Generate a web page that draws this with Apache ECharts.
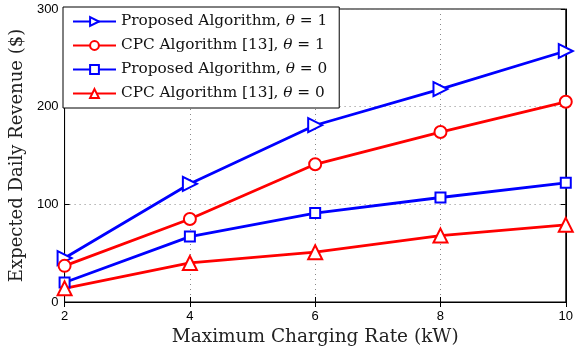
<!DOCTYPE html>
<html><head><meta charset="utf-8">
<script src="https://cdn.jsdelivr.net/npm/echarts@6/dist/echarts.min.js"></script>
<style>html,body{margin:0;padding:0;background:#fff}#c{width:576px;height:352px}</style>
</head><body><div id="c"></div>
<script>
const categories = [2, 4, 6, 8, 10];
const proposed1 = [45, 121, 181, 218, 257];
const cpc1 = [37, 85, 141, 174, 205];
const proposed0 = [20, 67, 91, 107, 122];
const cpc0 = [14, 40, 51, 68, 79];
const xTicks = [2, 4, 6, 8, 10];
const yTicks = [0, 100, 200, 300];

const names = ['Proposed Algorithm, θ = 1', 'CPC Algorithm [13], θ = 1', 'Proposed Algorithm, θ = 0', 'CPC Algorithm [13], θ = 0'];
const serif = 'DejaVu Serif';
function pts(arr){ return categories.map((x,i)=>[x,arr[i]]); }
function mk(name, data, color, symbol, rot, size){
  return {name, type:'line', data:pts(data), xAxisIndex:0, yAxisIndex:0,
    symbol, symbolRotate:rot, symbolSize:size, showSymbol:true,
    lineStyle:{color, width:2.8}, itemStyle:{color, borderColor:color, borderWidth:2},
    emphasis:{disabled:true}, z:3};
}
const chart = echarts.init(document.getElementById('c'), null, {renderer:'canvas'});
chart.setOption({
  animation:false,
  grid:{left:64, right:9, top:9, bottom:50, show:true, borderColor:'#000', borderWidth:1, backgroundColor:'transparent'},
  legend:{left:63, top:7, orient:'vertical', itemWidth:43, itemHeight:11, itemGap:5,
    padding:[5,12,5,9], backgroundColor:'#fff', borderColor:'#000', borderWidth:1,
    data:names,
    textStyle:{fontFamily:serif, fontSize:15.3, color:'#111', lineHeight:19,
      rich:{a:{fontFamily:serif, fontSize:15.3, color:'#111', lineHeight:19}, i:{fontFamily:serif, fontSize:15.3, fontStyle:'italic', color:'#111', lineHeight:19}}},
    formatter:function(n){ const p=n.split('θ'); return '{a|'+p[0]+'}{i|θ}{a|'+p[1]+'}'; }
  },
  xAxis:[{type:'value', min:2, max:10, interval:2, position:'bottom',
    name:'Maximum Charging Rate (kW)', nameLocation:'middle', nameGap:24,
    nameTextStyle:{fontFamily:serif, fontSize:18.5, color:'#222'},
    axisLine:{show:true, lineStyle:{color:'#000', width:1}},
    axisTick:{show:true, inside:true, length:5, lineStyle:{color:'#000'}},
    axisLabel:{fontFamily:'Liberation Sans', fontSize:13, color:'#000', margin:8,
      formatter:v=>xTicks.includes(v)?String(v):''},
    splitLine:{show:true, lineStyle:{color:'#888', type:[1,4], width:1}}},
   {type:'value', min:2, max:10, interval:2, position:'top',
    axisLine:{show:true, lineStyle:{color:'#000'}},
    axisTick:{show:true, inside:true, length:5, lineStyle:{color:'#000'}},
    axisLabel:{show:false}, splitLine:{show:false}}],
  yAxis:[{type:'value', min:0, max:300, interval:100, position:'left',
    name:'Expected Daily Revenue ($)', nameLocation:'middle', nameGap:37,
    nameTextStyle:{fontFamily:serif, fontSize:18, color:'#222'},
    axisLine:{show:true, lineStyle:{color:'#000', width:1}},
    axisTick:{show:true, inside:true, length:5, lineStyle:{color:'#000'}},
    axisLabel:{fontFamily:'Liberation Sans', fontSize:13, color:'#000', margin:6,
      formatter:v=>yTicks.includes(v)?String(v):''},
    splitLine:{show:true, lineStyle:{color:'#888', type:[1,4], width:1}}},
   {type:'value', min:0, max:300, interval:100, position:'right',
    axisLine:{show:true, lineStyle:{color:'#000'}},
    axisTick:{show:true, inside:true, length:5, lineStyle:{color:'#000'}},
    axisLabel:{show:false}, splitLine:{show:false}}],
  series:[
    mk(names[0], proposed1, '#0000ff', 'emptyTriangle', -90, 14),
    mk(names[1], cpc1, '#ff0000', 'emptyCircle', 0, 12),
    mk(names[2], proposed0, '#0000ff', 'emptyRect', 0, 10),
    mk(names[3], cpc0, '#ff0000', 'emptyTriangle', 0, 14)
  ]
});
</script></body></html>
